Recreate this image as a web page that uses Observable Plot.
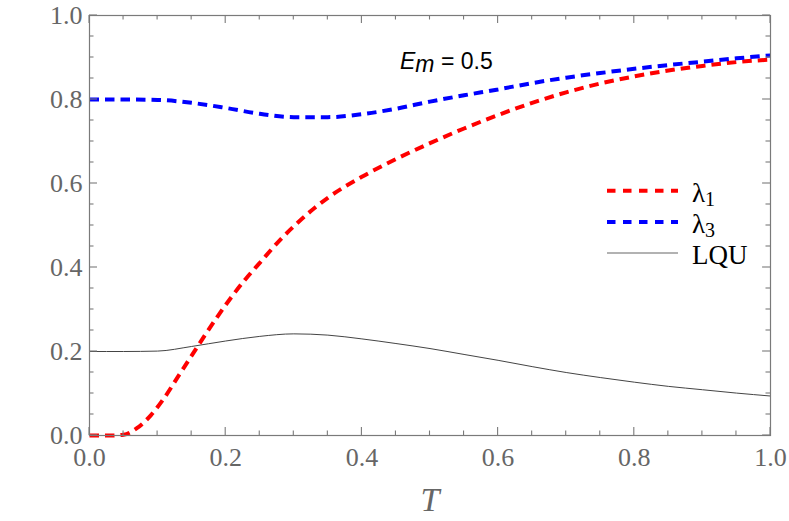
<!DOCTYPE html>
<html><head><meta charset="utf-8">
<script src="https://cdn.jsdelivr.net/npm/d3@7"></script>
<script src="https://cdn.jsdelivr.net/npm/@observablehq/plot@0.6"></script>
<style>
body{margin:0;background:#fff;}
#wrap{width:789px;height:521px;}
</style></head><body><div id="wrap"></div>
<script>
// λ1 (red dashed)
const t1 = [0,0.03,0.05,0.07,0.09,0.11,0.13,0.15,0.17,0.19,0.21,0.23,0.25,0.28,0.30,0.33,0.35,0.40,0.45,0.50,0.55,0.60,0.65,0.70,0.75,0.80,0.85,0.90,0.95,1.00];
const lambda1 = [0,0,0.002,0.018,0.048,0.090,0.140,0.190,0.240,0.288,0.333,0.374,0.411,0.466,0.498,0.541,0.566,0.616,0.658,0.696,0.731,0.763,0.792,0.817,0.838,0.855,0.869,0.880,0.889,0.895];
// λ3 (blue dashed)
const t3 = [0,0.05,0.10,0.15,0.20,0.25,0.30,0.35,0.40,0.45,0.50,0.55,0.60,0.65,0.70,0.75,0.80,0.85,0.90,0.95,1.00];
const lambda3 = [0.800,0.800,0.799,0.792,0.780,0.766,0.758,0.758,0.765,0.778,0.795,0.810,0.824,0.839,0.852,0.863,0.873,0.882,0.890,0.898,0.905];
// LQU (thin gray)
const tq = [0,0.05,0.10,0.15,0.20,0.25,0.30,0.35,0.40,0.45,0.50,0.55,0.60,0.65,0.70,0.75,0.80,0.85,0.90,0.95,1.00];
const lqu = [0.200,0.200,0.201,0.212,0.225,0.236,0.242,0.239,0.230,0.219,0.207,0.193,0.179,0.164,0.150,0.138,0.127,0.117,0.109,0.101,0.094];

const majorTicks = [0,0.2,0.4,0.6,0.8,1.0];
const tickLabels = ["0.0","0.2","0.4","0.6","0.8","1.0"];
const minorTicks = [0.05,0.1,0.15,0.25,0.3,0.35,0.45,0.5,0.55,0.65,0.7,0.75,0.85,0.9,0.95];
const seriesNames = ["λ", "λ", "LQU"];
const seriesSubs = ["1", "3", ""];
const annotation = {name: "E", sub: "m", value: "0.5"};

const rows = (ts, vs) => ts.map((t, i) => ({t, v: vs[i]}));
const fmt = d => tickLabels[majorTicks.findIndex(m => Math.abs(m - d) < 1e-9)];
const frameGray = "#7a7a7a";
const labelGray = "#666";

// inward ticks on all four sides, placed with the plot's own scales
function ticksMark(index, {x, y}, values, dim) {
  const L = dim.marginLeft, R = dim.width - dim.marginRight;
  const Tp = dim.marginTop, B = dim.height - dim.marginBottom;
  const g = d3.create("svg:g");
  const sets = [[majorTicks, 8], [minorTicks, 4.5]];
  const add = (x1, y1, x2, y2) => g.append("line").attr("x1", x1).attr("y1", y1).attr("x2", x2).attr("y2", y2)
    .attr("stroke", frameGray).attr("stroke-width", 1.1);
  for (const [vals, len] of sets) {
    for (const v of vals) {
      const px = x(v), py = y(v);
      add(px, B, px, B - len);
      add(px, Tp, px, Tp + len);
      add(L, py, L + len, py);
      add(R, py, R - len, py);
    }
  }
  return g.node();
}

function legendMark(index, scales, values, dim) {
  const g = d3.create("svg:g").attr("text-anchor", "start");
  const styles = [
    {stroke: "#ff0000", w: 4, dash: "8.5,7.5"},
    {stroke: "#0000ff", w: 4, dash: "8.5,7.5"},
    {stroke: "#999", w: 1.3, dash: null}
  ];
  const x0 = 607, x1 = 678, ys = [190.7, 222, 253];
  seriesNames.forEach((n, i) => {
    const s = styles[i];
    g.append("line").attr("x1", x0).attr("x2", x1).attr("y1", ys[i]).attr("y2", ys[i])
      .attr("stroke", s.stroke).attr("stroke-width", s.w).attr("stroke-dasharray", s.dash)
      .attr("stroke-linecap", "butt");
    const tx = g.append("text").attr("x", 692).attr("y", ys[i] + 11)
      .style("font-family", "Liberation Serif").style("font-size", "27px").attr("fill", "#000");
    tx.append("tspan").text(n);
    if (seriesSubs[i]) tx.append("tspan").style("font-size", "20px").attr("dy", 4).text(seriesSubs[i]);
  });
  const a = g.append("text").attr("x", 400).attr("y", 69)
    .style("font-family", "Liberation Sans").style("font-size", "23px").attr("fill", "#000");
  a.append("tspan").attr("font-style", "italic").text(annotation.name);
  a.append("tspan").attr("font-style", "italic").attr("dy", 3).text(annotation.sub);
  a.append("tspan").attr("dy", -3).text(" = " + annotation.value);
  return g.node();
}

const dashed = {strokeWidth: 4, strokeDasharray: "9.5,6", strokeLinecap: "butt", strokeLinejoin: "miter", curve: "monotone-x"};

const chart = Plot.plot({
  width: 789,
  height: 521,
  marginLeft: 89,
  marginRight: 19,
  marginTop: 15,
  marginBottom: 86,
  style: {fontFamily: "Liberation Serif", fontSize: "26px", background: "#fff", color: labelGray},
  x: {domain: [0, 1]},
  y: {domain: [0, 1]},
  marks: [
    Plot.line(rows(tq, lqu), {x: "t", y: "v", stroke: "#444", strokeWidth: 1, curve: "monotone-x"}),
    Plot.line(rows(t1, lambda1), {x: "t", y: "v", stroke: "#ff0000", ...dashed}),
    Plot.line(rows(t3, lambda3), {x: "t", y: "v", stroke: "#0000ff", ...dashed}),
    Plot.frame({stroke: frameGray, strokeWidth: 1.2}),
    ticksMark,
    Plot.axisX(majorTicks, {anchor: "bottom", tickSize: 0, tickPadding: 12, tickFormat: fmt, fontSize: 26, label: null, fill: labelGray}),
    Plot.axisY(majorTicks, {anchor: "left", tickSize: 0, tickPadding: 7, tickFormat: fmt, fontSize: 26, label: null, fill: labelGray}),
    Plot.text(["T"], {text: d => d, frameAnchor: "bottom", dy: 75, fontSize: 34, fontStyle: "italic", fill: labelGray}),
    legendMark
  ]
});
document.getElementById("wrap").appendChild(chart);
</script>
</body></html>
